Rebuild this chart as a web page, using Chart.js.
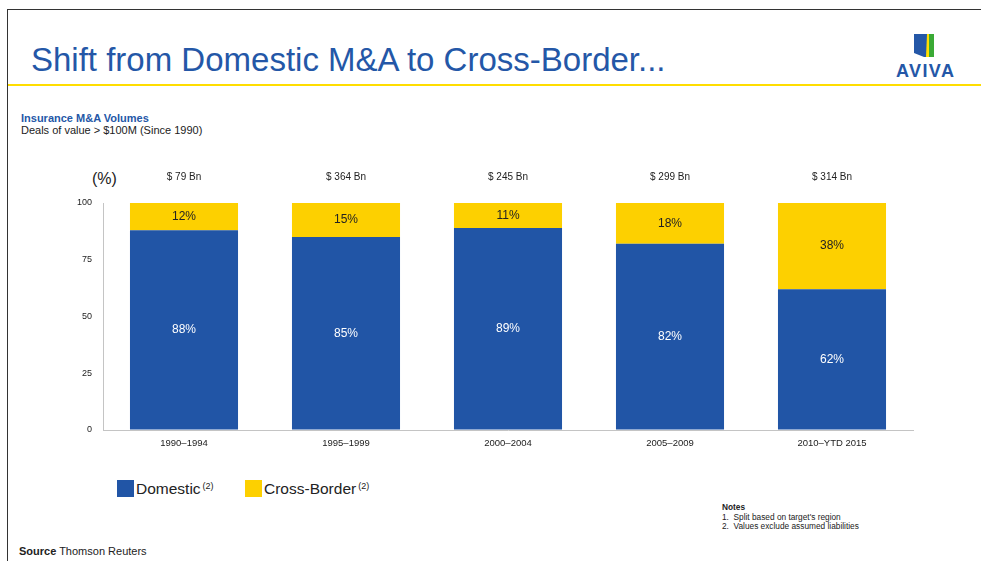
<!DOCTYPE html>
<html>
<head>
<meta charset="utf-8">
<script src="https://cdn.jsdelivr.net/npm/chart.js@4/dist/chart.umd.min.js"></script>
<style>
  html, body { margin: 0; padding: 0; background: #fff; }
  body { width: 981px; height: 561px; position: relative; overflow: hidden; font-family: "Liberation Sans", Arial, sans-serif; color: #222; }
  .frame-top { position: absolute; left: 7px; top: 9px; right: 0; height: 1px; background: #333; }
  .frame-left { position: absolute; left: 7px; top: 9px; bottom: 0; width: 1px; background: #333; }
  .rule { position: absolute; left: 8px; top: 84px; right: 0; height: 2px; background: #ffdd00; }
  .title { position: absolute; left: 31px; top: 41px; font-size: 33px; color: #2457a7; white-space: nowrap; }
  .logo { position: absolute; left: 896px; top: 33px; width: 62px; }
  .logo-word { position: absolute; left: 896px; top: 61px; font-size: 18px; font-weight: bold; color: #2457a7; letter-spacing: 1.4px; }
  .sub1 { position: absolute; left: 21px; top: 112px; font-size: 11px; font-weight: bold; color: #2457a7; }
  .sub2 { position: absolute; left: 21px; top: 124px; font-size: 11px; color: #222; }
  .pct { position: absolute; left: 92px; top: 170px; font-size: 16px; color: #222; }
  #chartWrap { position: absolute; left: 40px; top: 160px; width: 900px; height: 300px; }
  .legend { position: absolute; left: 117px; top: 480px; font-size: 15.5px; color: #222; }
  .legend span.item { position: absolute; white-space: nowrap; top: 0; }
  .legend i { display: inline-block; width: 17px; height: 17px; vertical-align: -3px; margin-right: 2px; }
  .legend sup { font-size: 9px; vertical-align: 5px; margin-left: 2px; }
  .notes { position: absolute; left: 722px; top: 503px; font-size: 8.3px; line-height: 9.5px; color: #222; }
  .source { position: absolute; left: 19px; top: 545px; font-size: 11px; color: #222; }
</style>
</head>
<body>
<div class="frame-top"></div>
<div class="frame-left"></div>
<div class="title">Shift from Domestic M&amp;A to Cross-Border...</div>
<svg class="logo" viewBox="0 0 62 26" height="26">
  <polygon points="18,1 38,1 38,24 28,24 18,20" fill="#2457a7"/>
  <polygon points="32,1 38,1 38,24 33,24" fill="#3aaa35"/>
  <polygon points="31,1 33,1 33,24 30,24" fill="#ffdd00"/>
</svg>
<div class="logo-word">AVIVA</div>
<div class="rule"></div>

<div class="sub1">Insurance M&amp;A Volumes</div>
<div class="sub2">Deals of value &gt; $100M (Since 1990)</div>
<div class="pct">(%)</div>

<div id="chartWrap"><canvas id="mixChart"></canvas></div>

<div class="legend">
  <span class="item" style="left:0"><i style="background:#2155a6"></i>Domestic<sup>(2)</sup></span>
  <span class="item" style="left:128px"><i style="background:#fdd000"></i>Cross-Border<sup>(2)</sup></span>
</div>

<div class="notes"><b>Notes</b><br>1.&nbsp; Split based on target's region<br>2.&nbsp; Values exclude assumed liabilities</div>
<div class="source"><b>Source</b> Thomson Reuters</div>

<script>
// ---------- Insurance M&A: domestic vs cross-border split ----------

const periods = ["1990\u20131994", "1995\u20131999", "2000\u20132004", "2005\u20132009", "2010\u2013YTD 2015"];
const domesticPct = [88, 85, 89, 82, 62];
const crossBorderPct = [12, 15, 11, 18, 38];
const totalVolumeBn = [79, 364, 245, 299, 314];
const yTicks = [0, 25, 50, 75, 100];

const BLUE = "#2155a6";
const YELLOW = "#fdd000";

// segment percentages inside the bars, deal volume above each bar
const barLabels = {
  id: "barLabels",
  afterDatasetsDraw(chart) {
    const ctx = chart.ctx;
    ctx.save();
    ctx.textAlign = "center";
    ctx.textBaseline = "middle";
    ctx.font = "12px 'Liberation Sans', Arial, sans-serif";
    chart.data.datasets.forEach((ds, di) => {
      chart.getDatasetMeta(di).data.forEach((bar, i) => {
        const mid = (bar.y + bar.base) / 2;
        ctx.fillStyle = di === 0 ? "#ffffff" : "#222222";
        ctx.fillText(ds.data[i] + "%", bar.x, mid);
      });
    });
    ctx.font = "10px 'Liberation Sans', Arial, sans-serif";
    ctx.fillStyle = "#222222";
    chart.getDatasetMeta(0).data.forEach((bar, i) => {
      ctx.fillText("$ " + totalVolumeBn[i] + " Bn", bar.x, chart.chartArea.top - 26);
    });
    ctx.restore();
  }
};

new Chart(document.getElementById("mixChart"), {
  type: "bar",
  data: {
    labels: periods,
    datasets: [
      { label: "Domestic", data: domesticPct, backgroundColor: BLUE, borderWidth: 0 },
      { label: "Cross-Border", data: crossBorderPct, backgroundColor: YELLOW, borderWidth: 0 }
    ]
  },
  options: {
    responsive: true,
    maintainAspectRatio: false,
    animation: false,
    layout: { padding: { left: 20, right: 27, top: 43, bottom: 0 } },
    categoryPercentage: 1,
    barPercentage: 0.667,
    plugins: { legend: { display: false }, tooltip: { enabled: false } },
    scales: {
      x: {
        stacked: true,
        grid: { color: "transparent", drawTicks: false },
        border: { color: "#c4c4c4", width: 1 },
        ticks: { color: "#222", padding: 8, font: { size: 9.5, family: "'Liberation Sans', Arial, sans-serif" }, maxRotation: 0 },
        afterFit: (s) => { s.height = 30; }
      },
      y: {
        stacked: true,
        min: 0,
        max: 100,
        afterBuildTicks: (s) => { s.ticks = yTicks.map((v) => ({ value: v })); },
        grid: { color: "transparent", drawTicks: false },
        border: { color: "#c4c4c4", width: 1 },
        ticks: { color: "#222", padding: 11, font: { size: 9, family: "'Liberation Sans', Arial, sans-serif" } },
        afterFit: (s) => { s.width = 43; }
      }
    }
  },
  plugins: [barLabels]
});
</script>
</body>
</html>
